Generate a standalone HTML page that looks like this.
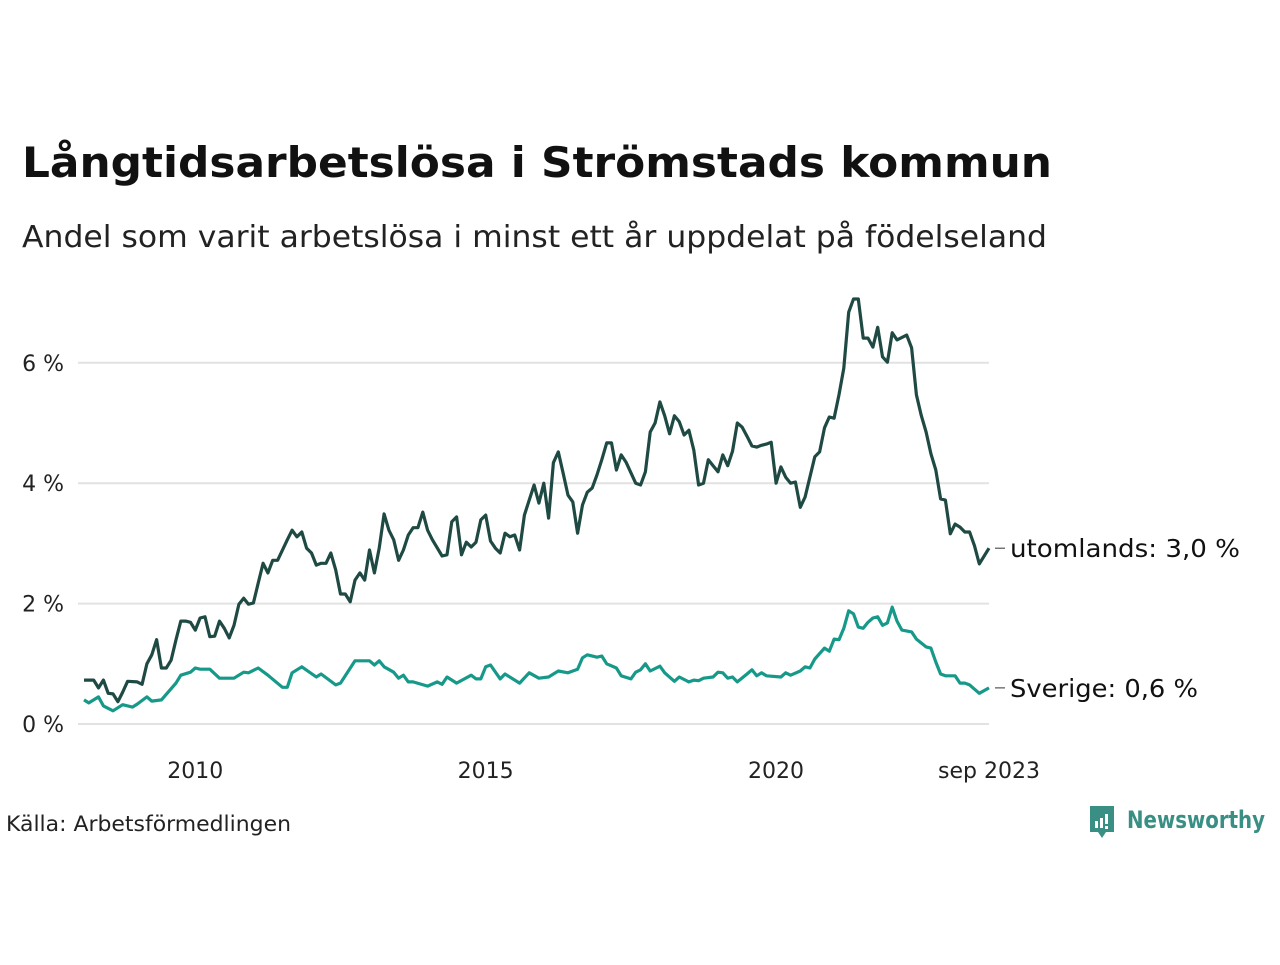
<!DOCTYPE html>
<html><head><meta charset="utf-8"><style>
html,body{margin:0;padding:0;background:#fff;}
svg text{font-family:"DejaVu Sans","Liberation Sans",sans-serif;}
</style></head><body>
<svg id="chart" width="1280" height="960" xmlns="http://www.w3.org/2000/svg">
<text x="22" y="177" font-size="42" font-weight="bold" fill="#111" textLength="1030" lengthAdjust="spacingAndGlyphs">Långtidsarbetslösa i Strömstads kommun</text>
<text x="22" y="247" font-size="30" fill="#222" textLength="1025" lengthAdjust="spacingAndGlyphs">Andel som varit arbetslösa i minst ett år uppdelat på födelseland</text>
<g id="grid"></g>
<g id="yticks"></g>
<g id="xticks"></g>
<g id="series"></g>
<text x="6" y="831" font-size="21" fill="#222" textLength="285" lengthAdjust="spacingAndGlyphs">Källa: Arbetsförmedlingen</text>
<g>
<path d="M1090 806 h24 v26 h-8 l-4 6 l-4 -6 h-8 z" fill="#3a8f84"/>
<rect x="1095" y="821" width="3" height="7" fill="#fff"/><rect x="1100" y="818" width="3" height="10" fill="#fff"/><rect x="1105" y="814" width="3" height="10" fill="#fff"/><rect x="1105" y="826" width="3" height="3" fill="#fff"/>
<text x="1127" y="828" font-size="24" font-weight="bold" fill="#3a8f84" textLength="138" lengthAdjust="spacingAndGlyphs">Newsworthy</text>
</g>
</svg>
<script>
const yTicks = [0, 2, 4, 6];
const yTickLabels = ["0 %", "2 %", "4 %", "6 %"];
const xTickMonths = [24, 84, 144, 188];
const xTickLabels = ["2010", "2015", "2020", "sep 2023"];
const seriesNames = ["utomlands", "Sverige"];
const lastLabels = ["utomlands: 3,0 %", "Sverige: 0,6 %"];
const utoMonths = [1,3,4,5,6,7,8,9,10,12,13,14,15,16,17,18,19,20,21,22,23,24,25,26,27,28,29,30,31,32,33,34,35,36,37,38,39,40,41,43,44,45,46,47,48,49,50,51,52,53,54,55,56,57,58,59,60,61,62,63,64,65,66,67,68,69,70,71,72,73,75,76,77,78,79,80,81,82,83,84,85,86,87,88,89,90,91,92,93,94,95,96,97,98,99,100,101,102,103,104,105,106,107,108,109,110,111,112,113,115,116,117,118,119,120,121,122,123,124,125,126,127,128,129,130,131,132,133,134,135,136,137,138,139,140,141,142,143,144,145,146,147,148,149,150,152,153,154,155,156,157,158,159,160,161,162,163,164,165,166,167,168,169,171,172,173,174,175,176,177,178,179,180,181,182,183,184,185,186,188];
const utoValues = [0.73,0.73,0.60,0.73,0.51,0.50,0.37,0.53,0.71,0.70,0.66,1.00,1.15,1.40,0.93,0.93,1.06,1.40,1.71,1.71,1.69,1.56,1.76,1.78,1.45,1.46,1.71,1.59,1.43,1.64,1.99,2.09,1.99,2.01,2.34,2.67,2.51,2.72,2.72,3.06,3.22,3.11,3.19,2.92,2.84,2.64,2.67,2.67,2.84,2.56,2.16,2.16,2.03,2.39,2.51,2.39,2.89,2.51,2.92,3.49,3.22,3.06,2.72,2.89,3.14,3.26,3.26,3.52,3.22,3.06,2.79,2.81,3.36,3.44,2.81,3.02,2.94,3.02,3.39,3.47,3.04,2.92,2.84,3.17,3.11,3.14,2.89,3.47,3.72,3.97,3.67,4.00,3.42,4.34,4.52,4.17,3.80,3.69,3.17,3.64,3.85,3.92,4.14,4.39,4.67,4.67,4.22,4.47,4.35,4.00,3.97,4.19,4.85,5.00,5.35,5.12,4.82,5.12,5.02,4.80,4.88,4.55,3.97,4.00,4.39,4.29,4.19,4.47,4.29,4.53,5.00,4.93,4.78,4.62,4.60,4.63,4.65,4.68,4.00,4.27,4.10,4.00,4.02,3.60,3.77,4.44,4.52,4.92,5.10,5.08,5.47,5.91,6.84,7.06,7.06,6.41,6.41,6.26,6.59,6.10,6.01,6.50,6.38,6.46,6.25,5.47,5.13,4.85,4.49,4.22,3.74,3.72,3.16,3.32,3.27,3.19,3.19,2.96,2.66,2.92];
const sveMonths = [1,2,4,5,7,9,11,12,14,15,17,20,21,23,24,25,27,29,32,34,35,37,39,42,43,44,46,49,50,53,54,57,60,61,62,63,65,66,67,68,69,72,74,75,76,78,81,82,83,84,85,87,88,91,93,95,97,99,101,103,104,105,107,108,109,111,112,114,115,116,117,118,120,121,123,124,126,127,128,129,131,132,133,134,135,136,138,139,140,141,142,145,146,147,149,150,151,152,154,155,156,157,158,159,160,161,162,163,164,165,166,167,168,169,170,172,173,175,176,177,178,179,181,182,183,184,186,188];
const sveValues = [0.40,0.35,0.45,0.30,0.22,0.32,0.28,0.33,0.45,0.38,0.40,0.68,0.81,0.86,0.93,0.91,0.91,0.76,0.76,0.86,0.85,0.93,0.81,0.61,0.61,0.85,0.95,0.78,0.83,0.65,0.68,1.05,1.05,0.98,1.05,0.95,0.86,0.76,0.81,0.70,0.70,0.63,0.70,0.66,0.78,0.68,0.81,0.75,0.75,0.95,0.98,0.75,0.83,0.68,0.85,0.76,0.78,0.88,0.85,0.91,1.10,1.15,1.11,1.13,1.00,0.93,0.80,0.75,0.86,0.90,1.00,0.88,0.96,0.85,0.71,0.78,0.70,0.73,0.72,0.76,0.78,0.86,0.85,0.76,0.78,0.70,0.83,0.90,0.80,0.85,0.80,0.78,0.85,0.81,0.88,0.95,0.93,1.08,1.26,1.21,1.41,1.40,1.59,1.88,1.83,1.61,1.59,1.69,1.76,1.78,1.64,1.68,1.94,1.71,1.56,1.53,1.41,1.28,1.26,1.03,0.83,0.80,0.80,0.68,0.68,0.65,0.51,0.60];

const NS = "http://www.w3.org/2000/svg";
const x0 = 84, x1 = 989, m0 = 1, m1 = 188;
const xs = m => x0 + (m - m0) * (x1 - x0) / (m1 - m0);
const ys = v => 724 - v * 60.2;
const grid = document.getElementById('grid');
const yt = document.getElementById('yticks');
const xt = document.getElementById('xticks');
const ser = document.getElementById('series');
yTicks.forEach((t, i) => {
  const l = document.createElementNS(NS, 'line');
  
  
  l.setAttribute('x1', 78); l.setAttribute('x2', 989);
  l.setAttribute('y1', ys(t)); l.setAttribute('y2', ys(t));
  l.setAttribute('stroke', '#e2e2e2'); l.setAttribute('stroke-width', '2');
  grid.appendChild(l);
  const tx = document.createElementNS(NS, 'text');
  
  
  tx.setAttribute('x', 64); tx.setAttribute('y', ys(t) + 8);
  tx.setAttribute('text-anchor', 'end'); tx.setAttribute('font-size', '22'); tx.setAttribute('fill', '#222');
  tx.textContent = yTickLabels[i];
  yt.appendChild(tx);
});
xTickMonths.forEach((m, i) => {
  const tx = document.createElementNS(NS, 'text');
  
  
  tx.setAttribute('x', xs(m)); tx.setAttribute('y', 778);
  tx.setAttribute('text-anchor', 'middle'); tx.setAttribute('font-size', '22'); tx.setAttribute('fill', '#222');
  tx.textContent = xTickLabels[i];
  xt.appendChild(tx);
});
function drawLine(months, vals, color, name, label, lw) {
  const p = document.createElementNS(NS, 'polyline');
  
  
  p.setAttribute('points', months.map((m, i) => xs(m).toFixed(1) + ',' + ys(vals[i]).toFixed(1)).join(' '));
  p.setAttribute('fill', 'none'); p.setAttribute('stroke', color);
  p.setAttribute('stroke-width', '3.2'); p.setAttribute('stroke-linejoin', 'round');
  ser.appendChild(p);
  const ly = ys(vals[vals.length - 1]);
  const tk = document.createElementNS(NS, 'line');
  
  
  tk.setAttribute('x1', 995); tk.setAttribute('x2', 1005); tk.setAttribute('y1', ly); tk.setAttribute('y2', ly);
  tk.setAttribute('stroke', '#555'); tk.setAttribute('stroke-width', '1.2');
  ser.appendChild(tk);
  const t = document.createElementNS(NS, 'text');
  
  
  t.setAttribute('x', 1010); t.setAttribute('y', ly + 9);
  t.setAttribute('font-size', '25'); t.setAttribute('fill', '#111');
  t.setAttribute('textLength', lw); t.setAttribute('lengthAdjust', 'spacingAndGlyphs');
  t.textContent = label;
  ser.appendChild(t);
}
drawLine(utoMonths, utoValues, '#1f4a44', 'utomlands-line', lastLabels[0], 230);
drawLine(sveMonths, sveValues, '#17998a', 'sverige-line', lastLabels[1], 188);
</script>
</body></html>
